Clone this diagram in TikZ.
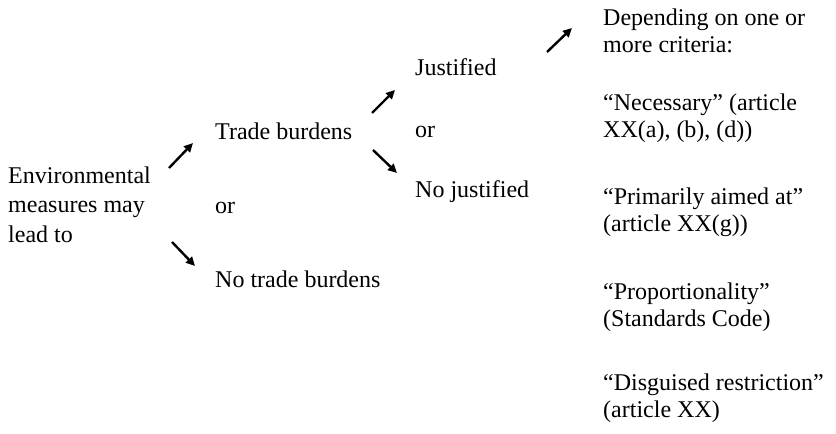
\documentclass[tikz,border=0pt]{standalone}
\usepackage{fontspec}
\setmainfont{Liberation Serif}
\usetikzlibrary{arrows.meta}

\begin{document}
\begin{tikzpicture}[x=1pt,y=-1pt,
  txt/.style={anchor=base west,inner sep=0pt,align=left,font=\fontsize{24}{29.5}\selectfont},
  crit/.style={txt,font=\fontsize{24}{27}\selectfont},
  arr/.style={line width=2.4pt,-{Triangle[length=9pt,width=8.5pt]}}]

\useasboundingbox (0,0) rectangle (836,434);

% starting point (base = last line)
\node[txt] (env) at (8,242) {Environmental\\measures may\\lead to};

% trade burdens or not
\node[txt] (trade) at (215,139) {Trade burdens};
\node[txt] (or1) at (215,213) {or};
\node[txt] (notrade) at (215,287) {No trade burdens};

% justified or not
\node[txt] (just) at (415,75) {Justified};
\node[txt] (or2) at (415,137) {or};
\node[txt] (nojust) at (415,197) {No justified};

% criteria
\node[crit] (dep) at (603,52) {Depending on one or\\more criteria:};
\node[crit] (nec) at (603,137) {“Necessary” (article\\XX(a), (b), (d))};
\node[crit] (prim) at (603,231) {“Primarily aimed at”\\(article XX(g))};
\node[crit] (prop) at (603,326) {“Proportionality”\\(Standards Code)};
\node[crit] (disg) at (603,417) {“Disguised restriction”\\(article XX)};

% arrow ends
\coordinate (a1s) at (169,168); \coordinate (a1e) at (193,143);
\coordinate (a2s) at (172,242); \coordinate (a2e) at (195,266);
\coordinate (a3s) at (372,113); \coordinate (a3e) at (395,90);
\coordinate (a4s) at (373,150); \coordinate (a4e) at (397,173);
\coordinate (a5s) at (547,52);  \coordinate (a5e) at (572,28);

\draw[arr] (a1s) -- (a1e);
\draw[arr] (a2s) -- (a2e);
\draw[arr] (a3s) -- (a3e);
\draw[arr] (a4s) -- (a4e);
\draw[arr] (a5s) -- (a5e);

\end{tikzpicture}
\end{document}
